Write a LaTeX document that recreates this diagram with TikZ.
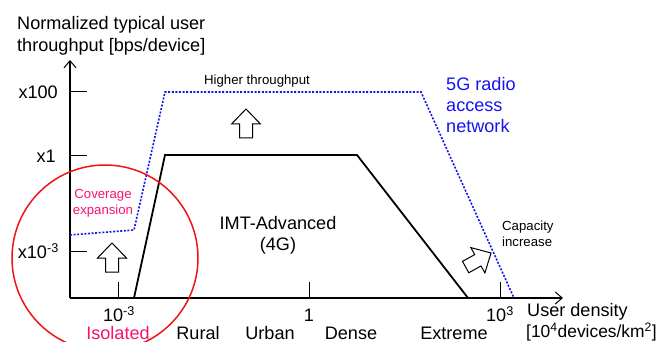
\documentclass[tikz,border=0pt]{standalone}
\usepackage{fontspec}
\setmainfont{Liberation Sans}
\usetikzlibrary{arrows.meta}
\definecolor{netblue}{RGB}{20,20,240}
\definecolor{hotpink}{RGB}{245,20,110}
\definecolor{ringred}{RGB}{240,20,20}
\tikzset{
  big/.style={font=\fontsize{18.1}{21}\selectfont, inner sep=0pt},
  small/.style={font=\fontsize{13.2}{16}\selectfont, inner sep=0pt},
  axis/.style={line width=1.3pt, -{Straight Barb[length=7pt,width=12pt,line width=1pt]}},
  tick/.style={line width=1pt},
  imt/.style={line width=1.8pt, line join=miter},
  fiveg/.style={netblue, line width=1.6pt, dash pattern=on 2pt off 1.6pt},
  hollow arrow/.pic={
    \draw[line width=1pt, fill=white, line join=miter]
      (0,0) -- (14.5,15) -- (6.5,15) -- (6.5,29) -- (-6.5,29)
      -- (-6.5,15) -- (-14.5,15) -- cycle;
  }
}
\begin{document}
\begin{tikzpicture}[x=1pt, y=-1pt]
\useasboundingbox (0,0) rectangle (661,342);

% axes
\coordinate (o) at (70,298);
\coordinate (ytop) at (70,60);
\coordinate (xend) at (563,298);
\draw[axis] (o) -- (ytop);
\draw[axis] (o) -- (xend);

% y ticks
\draw[tick] (70,92) -- (87,92);
\draw[tick] (70,155) -- (87,155);
\draw[tick] (70,251) -- (87,251);
% x ticks
\draw[tick] (118,282) -- (118,298);
\draw[tick] (309,282) -- (309,298);
\draw[tick] (500,282) -- (500,298);

% axis titles
\node[big, anchor=west] (ylab1) at (17,25) {Normalized typical user};
\node[big, anchor=west] (ylab2) at (17,47) {throughput [bps/device]};
\node[big, anchor=west] (xlab1) at (527,312) {User density};
\node[big, anchor=west, font=\fontsize{17.4}{21}\selectfont] (xlab2) at (526,332)
  {[10\textsuperscript{4}devices/km\textsuperscript{2}]};

% y tick labels
\node[big, anchor=east] (y100) at (58,92) {x100};
\node[big, anchor=east] (y1) at (56,156) {x1};
\node[big, anchor=east] (ym3) at (59,251) {x10\textsuperscript{-3}};

% x tick labels
\node[big] (xm3) at (119,314) {10\textsuperscript{-3}};
\node[big] (x1) at (309,315) {1};
\node[big] (x3) at (500,314) {10\textsuperscript{3}};

% density categories
\node[big, text=hotpink] (isolated) at (118,333) {Isolated};
\node[big] (rural) at (198,333) {Rural};
\node[big] (urban) at (270,333) {Urban};
\node[big] (dense) at (351,333) {Dense};
\node[big] (extreme) at (454,333) {Extreme};

% IMT-Advanced (4G) envelope
\draw[imt] (134,298) -- (165,155) -- (357,155) -- (468,298);
\node[big, align=center] (imtlab) at (278,235) {IMT-Advanced\\(4G)};

% 5G radio access network envelope
\draw[fiveg] (70,235) -- (134,230) -- (165,92) -- (421,92) -- (514,298);
\node[big, text=netblue, align=left, anchor=north west] (fivelab) at (446,77)
  {5G radio\\access\\network};

% annotations
\node[small] (higher) at (257,81) {Higher throughput};
\node[small, text=hotpink, align=center] (coverage) at (103,203) {Coverage\\expansion};
\node[small, align=left, anchor=north west] (capacity) at (502,221) {Capacity\\increase};

% improvement arrows
\pic at (246,109) {hollow arrow};
\pic at (112,243) {hollow arrow};
\pic[rotate=-61] at (491,253) {hollow arrow};

% isolated-area ring
\draw[ringred, line width=1.5pt] (105,258) circle[radius=93];
\end{tikzpicture}
\end{document}
